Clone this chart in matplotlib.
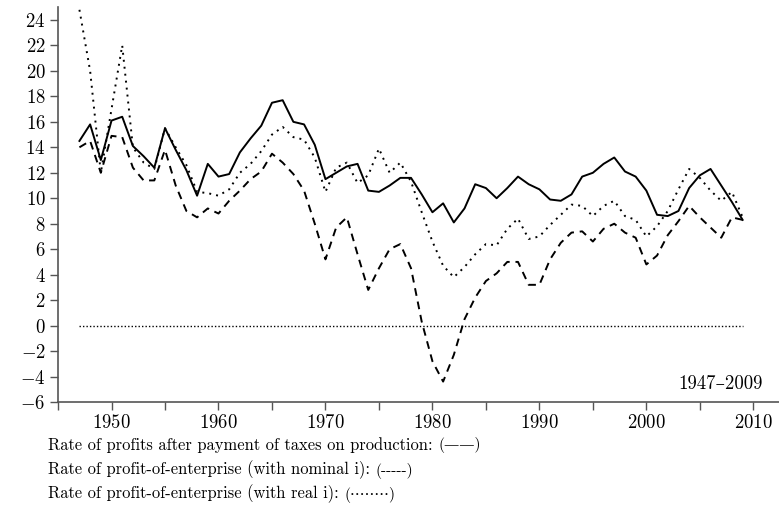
#!/usr/bin/env python3
from __future__ import annotations

import matplotlib

matplotlib.use("Agg")
import matplotlib.pyplot as plt

plt.rcParams["font.family"] = ["cmr10", "DejaVu Serif"]
plt.rcParams["mathtext.fontset"] = "cm"
plt.rcParams["axes.formatter.use_mathtext"] = True

years = list(range(1947, 2010))

# rate of profits after payment of taxes on production
profit_rate = [
    14.5, 15.8, 13.0, 16.1, 16.4, 14.1, 13.3, 12.4, 15.5, 13.8,
    12.2, 10.2, 12.7, 11.7, 11.9, 13.6, 14.7, 15.7, 17.5, 17.7,
    16.0, 15.8, 14.2, 11.5, 12.0, 12.5, 12.7, 10.6, 10.5, 11.0,
    11.6, 11.6, 10.3, 8.9, 9.6, 8.1, 9.2, 11.1, 10.8, 10.0,
    10.8, 11.7, 11.1, 10.7, 9.9, 9.8, 10.3, 11.7, 12.0, 12.7,
    13.2, 12.1, 11.7, 10.6, 8.7, 8.6, 9.0, 10.8, 11.8, 12.3,
    11.0, 9.7, 8.3,
]

# rate of profit-of-enterprise, nominal interest
poe_nominal = [
    14.0, 14.5, 12.0, 14.9, 14.8, 12.4, 11.4, 11.4, 13.8, 11.0,
    9.0, 8.5, 9.2, 8.8, 9.8, 10.6, 11.5, 12.1, 13.5, 12.8,
    11.9, 10.6, 8.0, 5.2, 7.7, 8.5, 5.6, 2.8, 4.5, 6.0,
    6.4, 4.5, 0.3, -2.8, -4.4, -2.3, 0.5, 2.2, 3.5, 4.1,
    5.0, 5.0, 3.2, 3.2, 5.2, 6.5, 7.3, 7.4, 6.6, 7.6,
    8.0, 7.3, 6.9, 4.8, 5.5, 7.1, 8.2, 9.4, 8.5, 7.7,
    6.9, 8.5, 8.3,
]

# rate of profit-of-enterprise, real interest
poe_real = [
    24.8, 20.0, 12.0, 17.0, 22.0, 14.0, 12.8, 12.3, 15.5, 14.0,
    12.6, 10.5, 10.4, 10.2, 10.7, 12.0, 12.7, 13.7, 15.0, 15.6,
    14.8, 14.6, 13.2, 10.5, 12.4, 12.8, 11.2, 11.8, 13.9, 12.0,
    12.8, 11.3, 8.9, 6.6, 4.7, 3.8, 4.6, 5.6, 6.4, 6.3,
    7.6, 8.4, 6.8, 7.0, 7.9, 8.7, 9.5, 9.4, 8.6, 9.4,
    9.8, 8.6, 8.3, 7.0, 7.8, 9.0, 10.7, 12.3, 11.6, 10.6,
    9.8, 10.5, 8.5,
]

x_major = [1950, 1960, 1970, 1980, 1990, 2000, 2010]
x_minor = [1945, 1955, 1965, 1975, 1985, 1995, 2005]
y_ticks = list(range(-6, 25, 2))

legend_rows = [
    ("Rate of profits after payment of taxes on production:", "(\u2014\u2014)"),
    ("Rate of profit-of-enterprise (with nominal i):", "(-----)"),
    ("Rate of profit-of-enterprise (with real i):", "(\u00b7\u00b7\u00b7\u00b7\u00b7\u00b7\u00b7\u00b7)"),
]

AXIS_GREY = "#555555"


def main() -> None:
    fig = plt.figure(figsize=(7.79, 5.18), dpi=100)
    ax = fig.add_axes([0.0745, 0.224, 0.9255, 0.762])

    ax.plot(years, profit_rate, color="black", lw=1.4)
    ax.plot(years, poe_nominal, color="black", lw=1.4, ls=(0, (4.0, 3.0)))
    ax.plot(years, poe_real, color="black", lw=1.4, ls=(0, (1.0, 2.6)))
    ax.plot([years[0], years[-1]], [0, 0], color="black", lw=1.0, ls=(0, (1.0, 1.5)))

    ax.set_xlim(1945, 2012.4)
    ax.set_ylim(-6, 25)
    ax.set_yticks(y_ticks)
    ax.set_xticks(x_major)
    ax.set_xticks(x_minor, minor=True)

    for side in ("top", "right"):
        ax.spines[side].set_visible(False)
    for side in ("left", "bottom"):
        ax.spines[side].set_color(AXIS_GREY)
        ax.spines[side].set_linewidth(1.2)
    ax.tick_params(which="both", direction="out", length=6, width=1.0, color=AXIS_GREY,
                   labelsize=13.5, pad=3)

    ax.text(2010.9, -4.6, "1947\u20132009", ha="right", va="center", fontsize=13.5)

    for i, (label, sample) in enumerate(legend_rows):
        t = fig.text(48 / 779, 1 - (450 + i * 24) / 518, label, fontsize=11.9, va="baseline")
        ax.annotate(sample, xy=(1, 0), xycoords=t, xytext=(4, 0), textcoords="offset points",
                    fontsize=11, va="bottom", annotation_clip=False)

    fig.savefig("out.png", dpi=100)


if __name__ == "__main__":
    main()
